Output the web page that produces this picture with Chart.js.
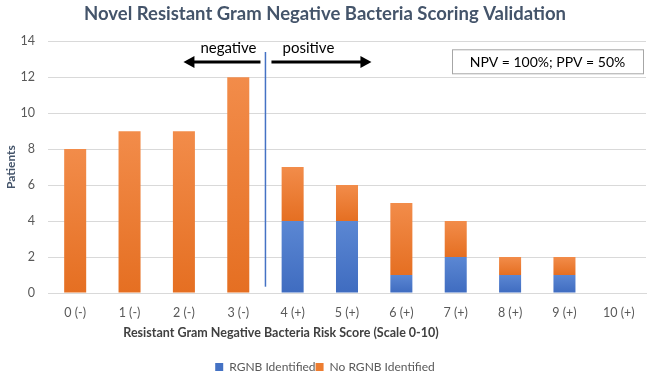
<!DOCTYPE html>
<html>
<head>
<meta charset="utf-8">
<script src="https://cdn.jsdelivr.net/npm/chart.js@4/dist/chart.umd.min.js"></script>
<style>
  html, body { margin: 0; padding: 0; background: #fff; }
  #wrap { width: 650px; height: 379px; }
</style>
</head>
<body>
<div id="wrap"><canvas id="rgnbChart"></canvas></div>
<script>
// datos
const categories = ['0 (-)', '1 (-)', '2 (-)', '3 (-)', '4 (+)', '5 (+)', '6 (+)', '7 (+)', '8 (+)', '9 (+)', '10 (+)'];
const rgnbIdentified = [0, 0, 0, 0, 4, 4, 1, 2, 1, 1, 0];
const noRgnbIdentified = [8, 9, 9, 12, 3, 2, 4, 2, 1, 1, 0];
const yTicks = [0, 2, 4, 6, 8, 10, 12, 14];

const FONT = 'Lato, "Open Sans", sans-serif';
const GREY = '#595959';

// degradado vertical por segmento, como en Excel
function segmentFill(light, dark) {
  return function(context) {
    const chart = context.chart;
    const y = chart.scales.y;
    if (!y || context.type !== 'data') return dark;
    const i = context.dataIndex;
    const start = context.datasetIndex === 0 ? 0 : rgnbIdentified[i];
    const end = start + context.raw;
    const top = y.getPixelForValue(end), bottom = y.getPixelForValue(start);
    if (!(bottom > top)) return dark;
    const g = chart.ctx.createLinearGradient(0, top, 0, bottom);
    g.addColorStop(0, light);
    g.addColorStop(1, dark);
    return g;
  };
}

// anotaciones: línea divisoria, flechas y caja de texto
const annotations = {
  id: 'annotations',
  afterDatasetsDraw(chart) {
    const c = chart.ctx, x = chart.scales.x, y = chart.scales.y, a = chart.chartArea;
    c.save();
    // línea vertical entre 3 y 4
    const lx = (x.getPixelForValue(3) + x.getPixelForValue(4)) / 2;
    c.strokeStyle = '#4472C4';
    c.lineWidth = 1.5;
    c.beginPath();
    c.moveTo(lx, y.getPixelForValue(13.4));
    c.lineTo(lx, y.getPixelForValue(0.35));
    c.stroke();

    // flechas
    const ay = y.getPixelForValue(12.85);
    function arrow(x1, x2) {
      const dir = Math.sign(x2 - x1);
      c.strokeStyle = '#000';
      c.fillStyle = '#000';
      c.lineWidth = 3;
      c.beginPath();
      c.moveTo(x1, ay);
      c.lineTo(x2 - dir * 8, ay);
      c.stroke();
      c.beginPath();
      c.moveTo(x2, ay);
      c.lineTo(x2 - dir * 11, ay - 6);
      c.lineTo(x2 - dir * 11, ay + 6);
      c.closePath();
      c.fill();
    }
    arrow(lx - 5, lx - 82);
    arrow(lx + 6, lx + 106);

    c.font = '15px ' + FONT;
    c.fillStyle = '#000';
    c.textAlign = 'center';
    c.textBaseline = 'middle';
    c.fillText('negative', lx - 37, y.getPixelForValue(13.6));
    c.fillText('positive', lx + 43, y.getPixelForValue(13.6));

    // caja NPV / PPV
    const bx = 452, bw = a.right - 3 - 452, by = y.getPixelForValue(13.55), bh = 24;
    c.fillStyle = '#fff';
    c.fillRect(bx, by, bw, bh);
    c.strokeStyle = '#A6A6A6';
    c.lineWidth = 1;
    c.strokeRect(bx + 0.5, by + 0.5, bw, bh);
    c.fillStyle = '#000';
    c.font = '14px ' + FONT;
    c.fillText('NPV = 100%; PPV = 50%', bx + bw / 2, by + bh / 2 + 1);

    // título del eje x
    c.font = 'bold 12.5px ' + FONT;
    c.fillStyle = '#404040';
    c.fillText('Resistant Gram Negative Bacteria Risk Score (Scale 0-10)', 281, 333);
    c.restore();
  }
};

const ctx = document.getElementById('rgnbChart').getContext('2d');
new Chart(ctx, {
  type: 'bar',
  data: {
    labels: categories,
    datasets: [{
      label: 'RGNB Identified',
      data: rgnbIdentified,
      backgroundColor: segmentFill('#5B87D3', '#3F6CC0'),
      barPercentage: 0.81,
      categoryPercentage: 0.5
    }, {
      label: 'No RGNB Identified',
      data: noRgnbIdentified,
      backgroundColor: segmentFill('#F28C4A', '#E56F22'),
      barPercentage: 0.81,
      categoryPercentage: 0.5
    }]
  },
  options: {
    responsive: true,
    maintainAspectRatio: false,
    animation: false,
    layout: { padding: { left: 4, right: 4, top: 0, bottom: -4 } },
    plugins: {
      title: {
        display: true,
        text: 'Novel Resistant Gram Negative Bacteria Scoring Validation',
        color: '#44546A',
        font: { family: FONT, size: 18.5, weight: 'bold' },
        padding: { top: 3, bottom: 16 }
      },
      legend: {
        position: 'bottom',
        labels: {
          color: GREY,
          font: { family: FONT, size: 12 },
          boxWidth: 8,
          boxHeight: 8,
          padding: 0,
          generateLabels(chart) {
            const fills = ['#4472C4', '#ED7D31'];
            return chart.data.datasets.map((ds, i) => ({
              text: ds.label,
              fillStyle: fills[i],
              strokeStyle: fills[i],
              lineWidth: 0,
              fontColor: GREY,
              datasetIndex: i
            }));
          }
        }
      },
      tooltip: { enabled: false }
    },
    scales: {
      x: {
        stacked: true,
        grid: { display: false, drawTicks: false },
        border: { color: '#D9D9D9' },
        ticks: { color: GREY, font: { family: FONT, size: 12.5 }, padding: 12 },
        afterFit(axis) { axis.height = 68; }
      },
      y: {
        stacked: true,
        min: 0,
        max: 14,
        afterBuildTicks(axis) { axis.ticks = yTicks.map(v => ({ value: v })); },
        afterFit(axis) { axis.width = 44; },
        grid: { color: '#D9D9D9', drawTicks: false },
        border: { display: false },
        ticks: { color: GREY, font: { family: FONT, size: 12.5 }, padding: 13 },
        title: {
          display: true,
          text: 'Patients',
          color: '#44546A',
          font: { family: FONT, size: 12, weight: 'bold' },
          padding: { top: 0, bottom: 0 }
        }
      }
    }
  },
  plugins: [annotations]
});
</script>
</body>
</html>
